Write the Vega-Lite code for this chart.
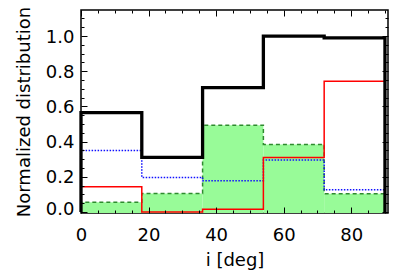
{
  "$schema": "https://vega.github.io/schema/vega-lite/v6.json",
  "width": 307,
  "height": 203,
  "autosize": "none",
  "padding": {"left": 81, "top": 10, "right": 21, "bottom": 60},
  "background": "white",
  "config": {
    "view": {"stroke": "black", "strokeWidth": 1.5},
    "font": "DejaVu Sans",
    "axis": {"grid": false, "domain": false, "labelFont": "DejaVu Sans", "titleFont": "DejaVu Sans", "labelFontSize": 18, "titleFontSize": 18, "titleFontWeight": "normal", "labelColor": "black", "titleColor": "black", "tickColor": "black", "tickWidth": 1}
  },
  "datasets": {
    "bins": [
      {"x": 0, "x2": 18, "y": 0.055}, {"x": 18, "x2": 36, "y": 0.105}, {"x": 36, "x2": 54, "y": 0.493}, {"x": 54, "x2": 72, "y": 0.383}, {"x": 72, "x2": 90, "y": 0.103}
    ],
    "steps": [
      {"s": "G", "o": 0, "x": 0, "y": 0}, {"s": "G", "o": 1, "x": 0, "y": 0.055}, {"s": "G", "o": 2, "x": 18, "y": 0.105}, {"s": "G", "o": 3, "x": 36, "y": 0.493}, {"s": "G", "o": 4, "x": 54, "y": 0.383}, {"s": "G", "o": 5, "x": 72, "y": 0.103}, {"s": "G", "o": 6, "x": 90, "y": 0.103}, {"s": "G", "o": 7, "x": 90, "y": 0},
      {"s": "B", "o": 0, "x": 0, "y": 0}, {"s": "B", "o": 1, "x": 0, "y": 0.349}, {"s": "B", "o": 2, "x": 18, "y": 0.196}, {"s": "B", "o": 3, "x": 36, "y": 0.177}, {"s": "B", "o": 4, "x": 54, "y": 0.295}, {"s": "B", "o": 5, "x": 72, "y": 0.126}, {"s": "B", "o": 6, "x": 90, "y": 0.126}, {"s": "B", "o": 7, "x": 90, "y": 0},
      {"s": "R", "o": 0, "x": 0, "y": 0}, {"s": "R", "o": 1, "x": 0, "y": 0.143}, {"s": "R", "o": 2, "x": 18, "y": 0.0}, {"s": "R", "o": 3, "x": 36, "y": 0.015}, {"s": "R", "o": 4, "x": 54, "y": 0.309}, {"s": "R", "o": 5, "x": 72, "y": 0.743}, {"s": "R", "o": 6, "x": 90, "y": 0.743}, {"s": "R", "o": 7, "x": 90, "y": 0},
      {"s": "K", "o": 0, "x": 0, "y": 0}, {"s": "K", "o": 1, "x": 0, "y": 0.565}, {"s": "K", "o": 2, "x": 18, "y": 0.31}, {"s": "K", "o": 3, "x": 36, "y": 0.707}, {"s": "K", "o": 4, "x": 54, "y": 1.0}, {"s": "K", "o": 5, "x": 72, "y": 0.99}, {"s": "K", "o": 6, "x": 90, "y": 0.99}, {"s": "K", "o": 7, "x": 90, "y": 0}
    ]
  },
  "resolve": {"axis": {"x": "independent", "y": "independent"}},
  "layer": [
    {
      "data": {"name": "bins"},
      "mark": {"type": "rect", "fill": "#98FB98", "strokeWidth": 0},
      "encoding": {
        "x": {"field": "x", "type": "quantitative", "scale": {"domain": [0, 90.9], "nice": false, "zero": false},
              "axis": {"orient": "bottom", "title": "i  [deg]", "values": [0, 20, 40, 60, 80], "ticks": false, "labelPadding": 13, "titlePadding": 7, "labelFlush": false}},
        "x2": {"field": "x2"},
        "y": {"field": "y", "type": "quantitative", "scale": {"domain": [-0.006, 1.148], "nice": false, "zero": false},
              "axis": {"orient": "left", "title": "Normalized  distribution", "values": [0, 0.2, 0.4, 0.6, 0.8, 1.0], "format": ".1f", "ticks": false, "labelPadding": 7, "titlePadding": 12, "labelFlush": false,
                       "labelOffset": {"condition": {"test": "datum.value == 0", "value": -2}, "value": 1}}},
        "y2": {"datum": -0.006}
      }
    },
    {
      "data": {"name": "steps"},
      "transform": [{"filter": "datum.s === 'G'"}],
      "mark": {"type": "line", "interpolate": "step-after", "color": "#2E8B2E", "strokeWidth": 1.5, "strokeDash": [4, 3]},
      "encoding": {
        "x": {"field": "x", "type": "quantitative", "scale": {"domain": [0, 90.9], "nice": false, "zero": false},
              "axis": {"orient": "bottom", "title": null, "labels": false, "values": [0, 20, 40, 60, 80], "tickSize": -6, "zindex": 1}},
        "y": {"field": "y", "type": "quantitative", "scale": {"domain": [-0.006, 1.148], "nice": false, "zero": false},
              "axis": {"orient": "left", "title": null, "labels": false, "values": [0, 0.2, 0.4, 0.6, 0.8, 1.0], "tickSize": -6, "zindex": 1}},
        "order": {"field": "o", "type": "quantitative"}
      }
    },
    {
      "data": {"name": "steps"},
      "transform": [{"filter": "datum.s === 'B'"}],
      "mark": {"type": "line", "interpolate": "step-after", "color": "#1010FF", "strokeWidth": 1.5, "strokeDash": [1.5, 1.5]},
      "encoding": {
        "x": {"field": "x", "type": "quantitative", "scale": {"domain": [0, 90.9], "nice": false, "zero": false},
              "axis": {"orient": "bottom", "title": null, "labels": false, "values": [5, 10, 15, 25, 30, 35, 45, 50, 55, 65, 70, 75, 85, 90], "tickSize": -3, "zindex": 1}},
        "y": {"field": "y", "type": "quantitative", "scale": {"domain": [-0.006, 1.148], "nice": false, "zero": false},
              "axis": {"orient": "left", "title": null, "labels": false, "values": [0.05, 0.1, 0.15, 0.25, 0.3, 0.35, 0.45, 0.5, 0.55, 0.65, 0.7, 0.75, 0.85, 0.9, 0.95, 1.05, 1.1], "tickSize": -3, "zindex": 1}},
        "order": {"field": "o", "type": "quantitative"}
      }
    },
    {
      "data": {"name": "steps"},
      "transform": [{"filter": "datum.s === 'R'"}],
      "mark": {"type": "line", "interpolate": "step-after", "color": "#FF0000", "strokeWidth": 1.5},
      "encoding": {
        "x": {"field": "x", "type": "quantitative", "scale": {"domain": [0, 90.9], "nice": false, "zero": false},
              "axis": {"orient": "top", "title": null, "labels": false, "values": [0, 20, 40, 60, 80], "tickSize": -6, "zindex": 1}},
        "y": {"field": "y", "type": "quantitative", "scale": {"domain": [-0.006, 1.148], "nice": false, "zero": false},
              "axis": {"orient": "right", "title": null, "labels": false, "values": [0, 0.2, 0.4, 0.6, 0.8, 1.0], "tickSize": -6, "zindex": 1}},
        "order": {"field": "o", "type": "quantitative"}
      }
    },
    {
      "data": {"name": "steps"},
      "transform": [{"filter": "datum.s === 'K'"}],
      "mark": {"type": "line", "interpolate": "step-after", "color": "#000000", "strokeWidth": 3.3},
      "encoding": {
        "x": {"field": "x", "type": "quantitative", "scale": {"domain": [0, 90.9], "nice": false, "zero": false},
              "axis": {"orient": "top", "title": null, "labels": false, "values": [5, 10, 15, 25, 30, 35, 45, 50, 55, 65, 70, 75, 85, 90], "tickSize": -3, "zindex": 1}},
        "y": {"field": "y", "type": "quantitative", "scale": {"domain": [-0.006, 1.148], "nice": false, "zero": false},
              "axis": {"orient": "right", "title": null, "labels": false, "values": [0.05, 0.1, 0.15, 0.25, 0.3, 0.35, 0.45, 0.5, 0.55, 0.65, 0.7, 0.75, 0.85, 0.9, 0.95, 1.05, 1.1], "tickSize": -3, "zindex": 1}},
        "order": {"field": "o", "type": "quantitative"}
      }
    }
  ]
}
